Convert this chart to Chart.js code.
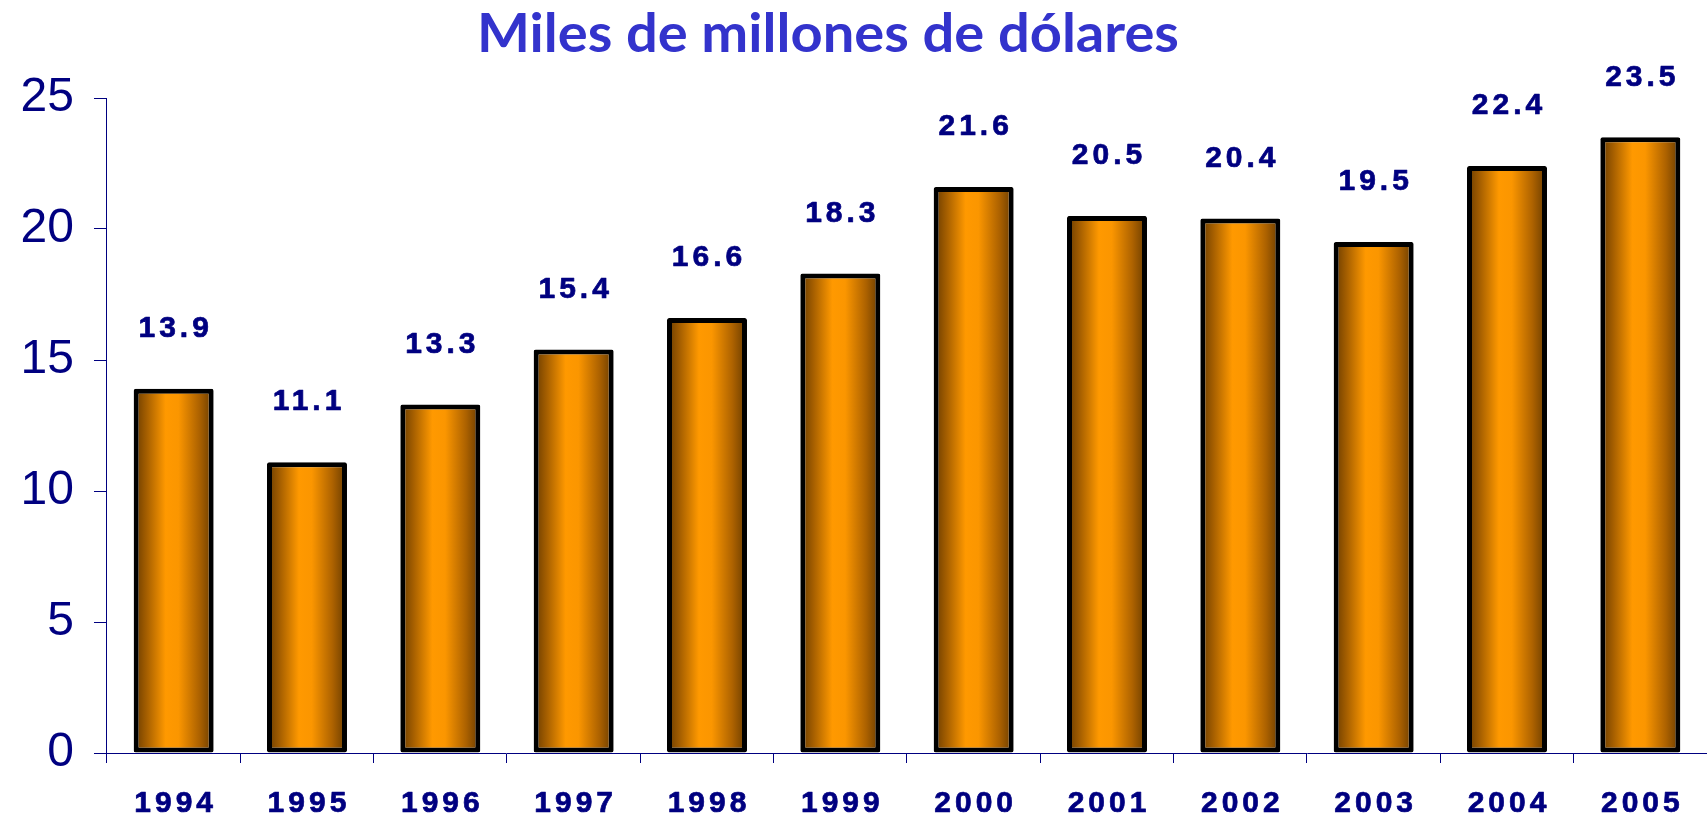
<!DOCTYPE html>
<html>
<head>
<meta charset="utf-8">
<script src="https://cdn.jsdelivr.net/npm/chart.js@4.4.1/dist/chart.umd.min.js"></script>
<style>
html, body { margin: 0; padding: 0; background: #ffffff; overflow: hidden; }
#wrap { width: 1707px; height: 819px; }
</style>
</head>
<body>
<div id="wrap"><canvas id="c" width="1707" height="819"></canvas></div>
<script>
const chartTitle = 'Miles de millones de dólares';
const years = ['1994', '1995', '1996', '1997', '1998', '1999', '2000', '2001', '2002', '2003', '2004', '2005'];
const values = [13.9, 11.1, 13.3, 15.4, 16.6, 18.3, 21.6, 20.5, 20.4, 19.5, 22.4, 23.5];
const yTicks = [0, 5, 10, 15, 20, 25];

const NAVY = '#000080';
const BAR_PCT = 0.6;

function barGradient(ctx) {
  const chart = ctx.chart;
  const xs = chart.scales && chart.scales.x;
  if (!chart.chartArea || !xs || ctx.type !== 'data') return '#ff9900';
  const cx = xs.getPixelForValue(ctx.dataIndex);
  const half = (xs.width / years.length) * BAR_PCT / 2;
  const g = chart.ctx.createLinearGradient(cx - half, 0, cx + half, 0);
  g.addColorStop(0, '#663a00');
  g.addColorStop(0.16, '#a45e00');
  g.addColorStop(0.40, '#ff9900');
  g.addColorStop(0.56, '#fb9600');
  g.addColorStop(0.82, '#ad6200');
  g.addColorStop(1, '#663a00');
  return g;
}

const textPlugin = {
  id: 'textPlugin',
  afterDraw(chart) {
    const c = chart.ctx;
    const xs = chart.scales.x, ys = chart.scales.y;
    c.save();
    c.fillStyle = NAVY;
    c.strokeStyle = NAVY;
    c.lineWidth = 0.7;
    c.lineJoin = 'round';
    c.font = 'bold 30px "Liberation Sans", Arial, sans-serif';
    const sp = 4;
    c.letterSpacing = sp + 'px';
    c.textAlign = 'center';
    c.textBaseline = 'middle';
    values.forEach((v, i) => {
      const x = xs.getPixelForValue(i) + sp / 2;
      const yv = ys.getPixelForValue(v) - 60;
      const yc = ys.bottom + 51;
      c.fillText(v.toFixed(1), x, yv);
      c.strokeText(v.toFixed(1), x, yv);
      c.fillText(years[i], x, yc);
      c.strokeText(years[i], x, yc);
    });
    c.restore();
    // title
    c.save();
    c.fillStyle = '#3333cc';
    c.font = 'bold 54px Lato, "Open Sans", sans-serif';
    const w = c.measureText(chartTitle).width;
    c.translate(828, 52);
    c.scale(702 / w, 1);
    c.textAlign = 'center';
    c.textBaseline = 'alphabetic';
    c.fillText(chartTitle, 0, 0);
    c.restore();
  }
};

new Chart(document.getElementById('c'), {
  type: 'bar',
  data: {
    labels: years,
    datasets: [{
      data: values,
      backgroundColor: barGradient,
      borderColor: '#000000',
      borderWidth: 5,
      borderRadius: 2,
      borderSkipped: false,
      barPercentage: BAR_PCT,
      categoryPercentage: 1.0
    }]
  },
  options: {
    responsive: false,
    animation: false,
    devicePixelRatio: 1,
    layout: { padding: { left: 0.6, right: 0, top: 98, bottom: 56 } },
    plugins: {
      legend: { display: false },
      title: { display: false },
      tooltip: { enabled: false }
    },
    scales: {
      x: {
        offset: true,
        ticks: { display: false },
        grid: { display: true, drawOnChartArea: false, drawTicks: true, tickLength: 10, color: NAVY, lineWidth: 1, offset: true },
        border: { display: true, color: NAVY, width: 1 }
      },
      y: {
        min: 0,
        max: 25,
        afterBuildTicks: (scale) => { scale.ticks = yTicks.map(v => ({ value: v })); },
        ticks: {
          color: NAVY,
          padding: 20,
          font: { family: '"Liberation Sans", Arial, sans-serif', size: 48 }
        },
        grid: { display: true, drawOnChartArea: false, drawTicks: true, tickLength: 13, color: NAVY, lineWidth: 1 },
        border: { display: true, color: NAVY, width: 1 }
      }
    }
  },
  plugins: [textPlugin]
});
</script>
</body>
</html>
